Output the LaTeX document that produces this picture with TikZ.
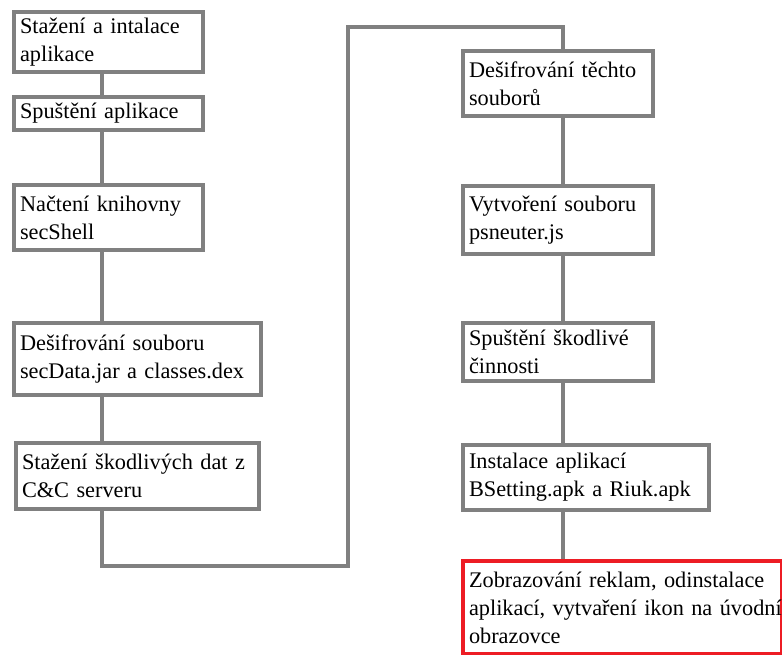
\documentclass[tikz,border=0pt]{standalone}
\usepackage{fontspec}
\setmainfont{Liberation Serif}
\definecolor{boxgray}{HTML}{808080}
\definecolor{boxred}{HTML}{ED1C24}
\begin{document}
\begin{tikzpicture}[x=1pt,y=-1pt,
  stepbox/.style={draw=boxgray, line width=4pt, fill=white, inner xsep=6pt, inner ysep=0pt,
    align=left, font=\fontsize{22.3}{28}\selectfont, anchor=north west},
  redbox/.style={stepbox, draw=boxred, line width=4pt},
  link/.style={draw=boxgray, line width=4pt}]
\useasboundingbox (0,0) rectangle (782,654);
\clip (0,0) rectangle (782,654);
% left column
\node[stepbox, minimum width=189pt, minimum height=60pt, text width=177pt] (b1) at (12,10) {Stažení a intalace\\aplikace};
\node[stepbox, minimum width=189pt, minimum height=33pt, text width=177pt] (b2) at (12,95) {Spuštění aplikace};
\node[stepbox, minimum width=189pt, minimum height=65pt, text width=177pt] (b3) at (12,183) {Načtení knihovny\\secShell};
\node[stepbox, minimum width=247pt, minimum height=72pt, text width=235pt] (b4) at (12,321) {Dešifrování souboru\\\mbox{secData.jar a classes.dex}};
\node[stepbox, minimum width=243pt, minimum height=66pt, text width=231pt] (b5) at (14,441) {\mbox{Stažení škodlivých dat z}\\C\&C serveru};
% right column
\node[stepbox, minimum width=190pt, minimum height=65pt, text width=178pt] (b6) at (461,49) {Dešifrování těchto\\souborů};
\node[stepbox, minimum width=190pt, minimum height=68pt, text width=178pt] (b7) at (461,184) {Vytvoření souboru\\psneuter.js};
\node[stepbox, minimum width=190pt, minimum height=58pt, text width=178pt] (b8) at (461,321) {Spuštění škodlivé\\činnosti};
\node[stepbox, minimum width=246pt, minimum height=65pt, text width=234pt] (b9) at (461,443) {Instalace aplikací\\\mbox{BSetting.apk a Riuk.apk}};
\node[redbox, minimum width=319pt, minimum height=93pt, text width=307pt] (b10) at (461,559) {\mbox{Zobrazování reklam, odinstalace}\\\mbox{aplikací, vytvaření ikon na úvodní}\\obrazovce};
% connector guides
\coordinate (lx) at (102,0);
\coordinate (rx) at (563,0);
\coordinate (turn1) at (102,566);
\coordinate (turn2) at (348,566);
\coordinate (turn3) at (348,27);
\coordinate (turn4) at (563,27);
\draw[link] (b1.south -| lx) -- (b2.north -| lx);
\draw[link] (b2.south -| lx) -- (b3.north -| lx);
\draw[link] (b3.south -| lx) -- (b4.north -| lx);
\draw[link] (b4.south -| lx) -- (b5.north -| lx);
\draw[link] (b5.south -| lx) -- (turn1) -- (turn2) -- (turn3) -- (turn4) -- (b6.north -| rx);
\draw[link] (b6.south -| rx) -- (b7.north -| rx);
\draw[link] (b7.south -| rx) -- (b8.north -| rx);
\draw[link] (b8.south -| rx) -- (b9.north -| rx);
\draw[link] (b9.south -| rx) -- (b10.north -| rx);
\end{tikzpicture}
\end{document}
